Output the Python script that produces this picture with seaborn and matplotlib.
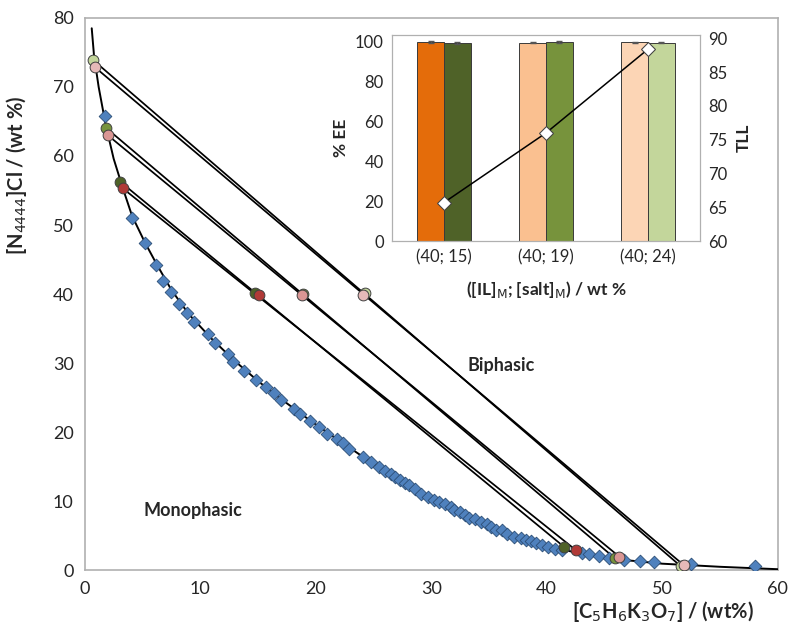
import pandas as pd
import matplotlib.pyplot as plt
import seaborn as sns
import numpy as np

sns.set_style('white')
plt.rcParams['font.family'] = ['Lato', 'DejaVu Sans']

# Binodal experimental points (salt wt%, IL wt%)
bin_x = [1.76, 4.13, 5.19, 6.2, 6.81, 7.5, 8.2, 8.89, 9.44, 10.68, 11.3, 12.4, 12.87,
         13.77, 14.86, 15.67, 16.4, 17.0, 18.1, 18.6, 19.5, 20.3, 21.0, 21.8, 22.4,
         22.9, 24.1, 24.8, 25.5, 26.0, 26.5, 26.9, 27.3, 27.7, 28.1, 28.6, 29.15,
         29.7, 30.2, 30.7, 31.2, 31.7, 32.0, 32.5, 32.9, 33.3, 33.8, 34.3, 34.8, 35.2,
         35.6, 36.1, 36.6, 37.2, 37.8, 38.2, 38.6, 39.1, 39.6, 40.1, 40.7, 41.3,
         43.1, 43.7, 44.5, 45.4, 46.7, 48.1, 49.3, 52.5, 58.0]
bin_y = [65.8, 51.06, 47.4, 44.2, 41.9, 40.3, 38.6, 37.2, 35.9, 34.2, 32.9, 31.3, 30.2,
         28.9, 27.5, 26.5, 25.6, 24.6, 23.4, 22.6, 21.6, 20.7, 19.8, 19.0, 18.4,
         17.6, 16.4, 15.7, 14.9, 14.4, 13.9, 13.5, 13.1, 12.7, 12.3, 11.7, 11.1,
         10.6, 10.2, 9.9, 9.6, 9.1, 8.7, 8.45, 8.0, 7.6, 7.35, 7.0, 6.7, 6.3,
         5.9, 5.8, 5.3, 4.8, 4.6, 4.4, 4.25, 3.9, 3.6, 3.4, 3.1, 3.0,
         2.55, 2.3, 2.0, 1.75, 1.55, 1.3, 1.2, 0.97, 0.62]

# Fitted binodal curve
fit_x = [0.6, 0.8, 1.2, 1.8, 2.5, 3.3, 4.1, 5.2, 6.2, 7.5, 9.0, 11.0, 13.0, 15.0,
         17.0, 19.5, 22.0, 25.0, 28.0, 31.0, 34.0, 37.0, 40.0, 43.0, 46.0, 50.0,
         55.0, 60.0]
fit_y = [78.5, 74.5, 70.0, 64.6, 59.6, 55.3, 51.3, 47.5, 44.4, 40.6, 37.1, 33.5, 30.3,
         27.4, 24.8, 21.7, 18.8, 15.4, 12.4, 9.7, 7.2, 5.1, 3.5, 2.4, 1.6, 0.95,
         0.5, 0.15]

# Tie lines: top phase, mixture point, bottom phase
tl_names = ['G 24', 'P 24', 'G 19', 'P 19', 'G 15', 'P 15']
tl_colors = ['#c3d69b', '#e6b9b8', '#77933c', '#da9694', '#4f6228', '#b03a37']
top_x = [0.72, 0.85, 1.82, 2.0, 3.05, 3.3]
top_y = [73.9, 72.9, 64.1, 63.0, 56.3, 55.3]
mix_x = [24.3, 24.1, 18.9, 18.85, 14.75, 15.1]
mix_y = [40.1, 39.9, 40.0, 39.8, 40.2, 39.8]
bot_x = [51.6, 51.9, 45.9, 46.3, 41.5, 42.5]
bot_y = [0.6, 0.7, 1.75, 1.95, 3.4, 2.95]

# Inset data
mixtures = ['(40; 15)', '(40; 19)', '(40; 24)']
ee_orange = [99.5, 99.2, 99.4]
ee_green = [99.0, 99.5, 99.2]
ee_orange_err = [0.4, 0.3, 0.3]
ee_green_err = [0.3, 0.4, 0.4]
orange_cols = ['#e46c0a', '#fac090', '#fcd5b5']
green_cols = ['#4f6228', '#77933c', '#c3d69b']
tll = [65.7, 76.0, 88.4]

fig = plt.figure(figsize=(8, 6.4), dpi=100)
ax = fig.add_axes([0.106, 0.109, 0.866, 0.863])

# tie lines
for i in range(len(tl_names)):
    ax.plot([top_x[i], bot_x[i]], [top_y[i], bot_y[i]], color='black', lw=1.25, zorder=2)

# binodal fit + points
sns.lineplot(x=fit_x, y=fit_y, sort=False, color='black', lw=1.4, ax=ax, zorder=3)
sns.scatterplot(x=bin_x, y=bin_y, marker='D', s=42, color='#4f81bd',
                edgecolor='#2c4d75', linewidth=0.6, ax=ax, zorder=4)

for i in range(len(tl_names)):
    ax.scatter([top_x[i], mix_x[i], bot_x[i]], [top_y[i], mix_y[i], bot_y[i]],
               s=60, color=tl_colors[i], edgecolor='#404040', linewidth=0.7, zorder=5)

ax.set_xlim(0, 60)
ax.set_ylim(0, 80)
ax.set_xticks(range(0, 61, 10))
ax.set_yticks(range(0, 81, 10))
ax.tick_params(labelsize=13, direction='in', length=5, color='#a0a0a0', width=1, pad=8)
for s in ax.spines.values():
    s.set_color('#b0b0b0')
    s.set_linewidth(1.2)

ax.set_xlabel('[C$_5$H$_6$K$_3$O$_7$] / (wt%)', fontsize=14.5, fontweight='bold')
ax.set_ylabel('[N$_{4444}$]Cl / (wt %)', fontsize=14.5, fontweight='bold')
ax.xaxis.set_label_coords(0.834, -0.052)
ax.yaxis.set_label_coords(-0.08, 0.716)

ax.text(36.1, 29.7, 'Biphasic', fontsize=13, fontweight='bold', ha='center', va='center')
ax.text(9.35, 8.7, 'Monophasic', fontsize=13, fontweight='bold', ha='center', va='center')

# Inset: %EE bars + TLL
ins = fig.add_axes([0.49, 0.6234, 0.385, 0.3219])
ee_df = pd.DataFrame({
    'mix': mixtures * 2,
    'EE': ee_orange + ee_green,
    'series': ['orange'] * 3 + ['green'] * 3,
})
sns.barplot(data=ee_df, x='mix', y='EE', hue='series', width=0.52, gap=0,
            errorbar=None, legend=False, ax=ins, zorder=2)
cols = orange_cols + green_cols
errs = ee_orange_err + ee_green_err
for p, c, v, e in zip(ins.patches, cols, ee_orange + ee_green, errs):
    p.set_facecolor(c)
    p.set_edgecolor('#3a3a3a')
    p.set_linewidth(0.7)
    ins.errorbar(p.get_x() + p.get_width() / 2, v, yerr=e, color='#555555',
                 lw=0.8, capsize=2, zorder=3)
ins.set_xlim(-0.51, 2.51)
ins.set_ylim(0, 103)
ins.set_yticks(range(0, 101, 20))
ins.set_xticks([0.5, 1.5], minor=True)
ins.tick_params(axis='x', which='minor', direction='in', length=4, color='#b0b0b0')
ins.set_xlabel('([IL]$_\\mathrm{M}$; [salt]$_\\mathrm{M}$) / wt %', fontsize=12.5,
               fontweight='bold', labelpad=10)
ins.set_ylabel('% EE', fontsize=12.5, fontweight='bold', labelpad=4)
ins.tick_params(axis='both', which='major', labelsize=12, length=0, pad=6)
for s in ins.spines.values():
    s.set_color('#b0b0b0')

ins2 = ins.twinx()
sns.lineplot(x=[0, 1, 2], y=tll, color='black', lw=1.1, marker='D', markersize=7,
             markerfacecolor='white', markeredgecolor='#404040', ax=ins2, zorder=4)
ins2.set_ylim(60, 90.5)
ins2.set_yticks(range(60, 91, 5))
ins2.set_ylabel('TLL', fontsize=12.5, fontweight='bold', labelpad=6)
ins2.tick_params(labelsize=12, length=0, pad=6)
for s in ins2.spines.values():
    s.set_color('#b0b0b0')

fig.savefig('out.png', dpi=100)
